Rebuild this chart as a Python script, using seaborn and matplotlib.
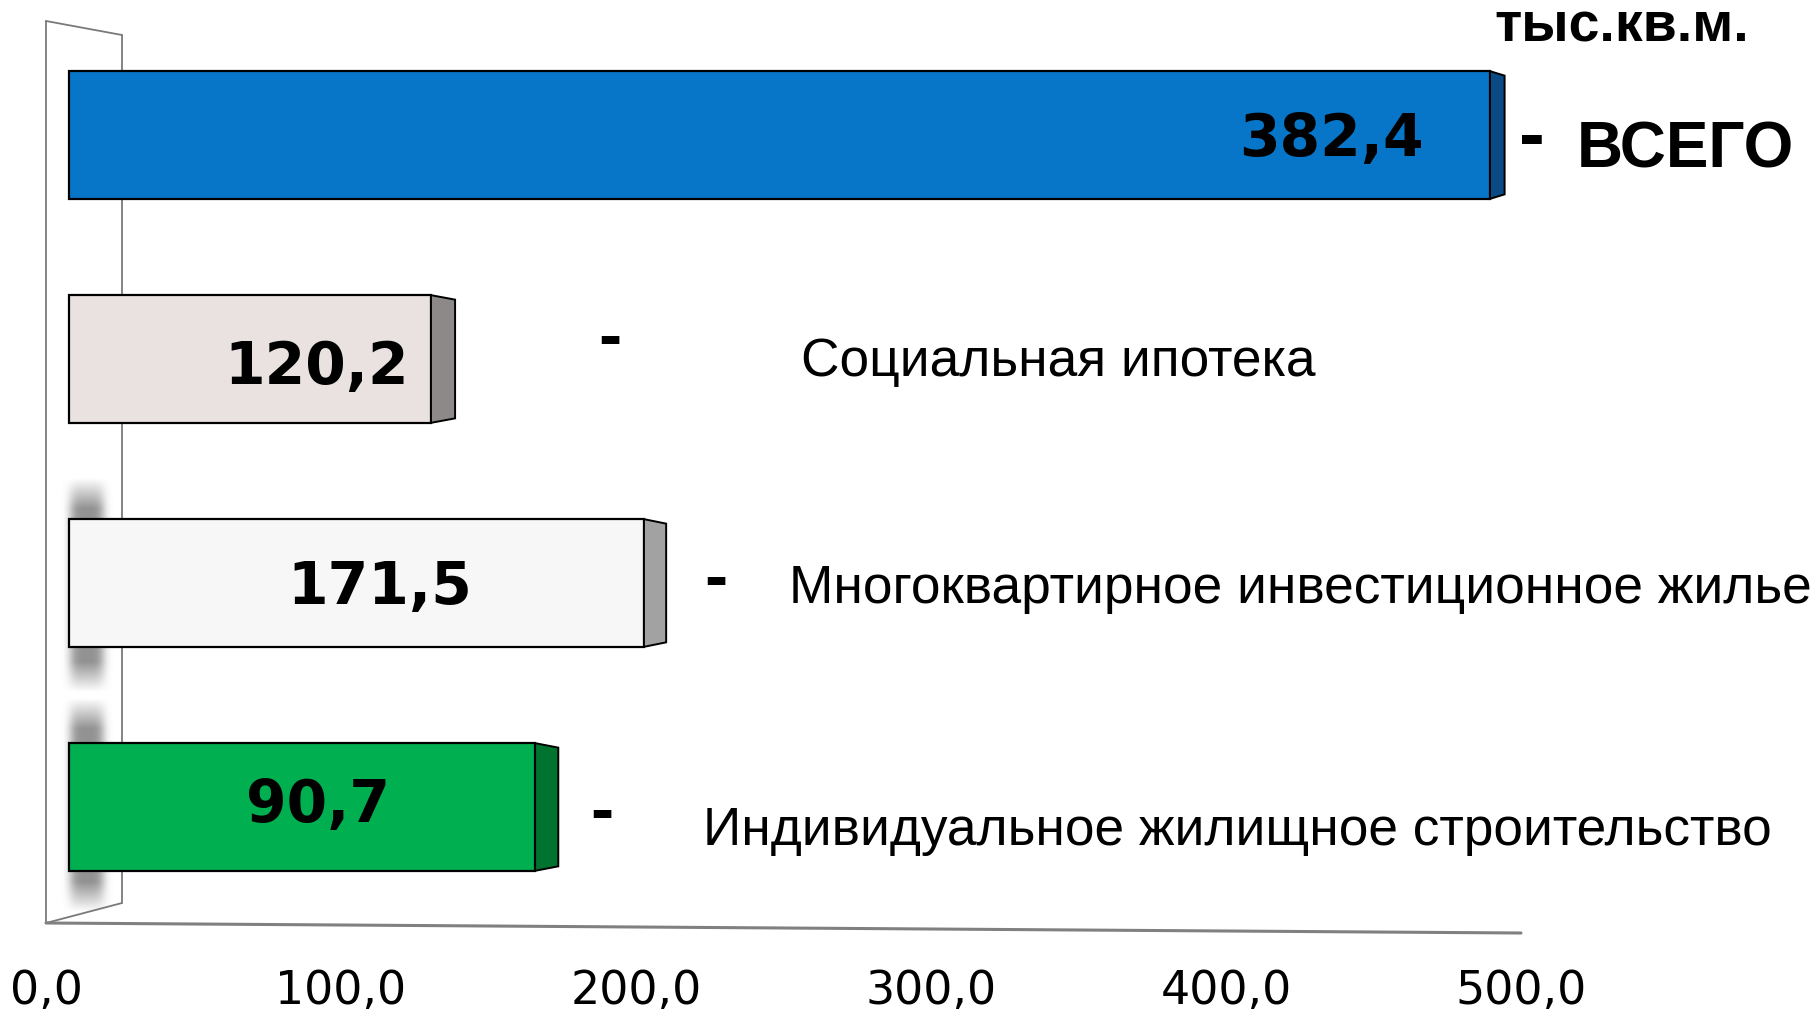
import numpy as np
import pandas as pd
import matplotlib.pyplot as plt
import matplotlib.transforms as mtransforms
from matplotlib.patches import Polygon
import seaborn as sns

# Data (top to bottom as in the picture)
categories = ["ВСЕГО", "Социальная ипотека",
              "Многоквартирное инвестиционное жилье",
              "Индивидуальное жилищное строительство"]
value_labels = ["382,4", "120,2", "171,5", "90,7"]
# bar lengths as drawn against the 0-500 axis (the source bars are not to scale)
bar_lengths = [481.7, 122.7, 194.9, 158.0]
ticks = [0, 100, 200, 300, 400, 500]
tick_labels = ["0,0", "100,0", "200,0", "300,0", "400,0", "500,0"]
unit_label = "тыс.кв.м."

front_colors = ["#0776C8", "#EAE2E1", "#F7F7F7", "#00B050"]
side_colors = ["#0B4B85", "#8E8989", "#A2A2A2", "#00732F"]

sns.set_style("white")
plt.rcParams['font.family'] = ['Liberation Sans', 'DejaVu Sans']
plt.rcParams['text.color'] = 'black'
plt.rcParams['xtick.color'] = 'black'

W, H = 1816, 1019
fig = plt.figure(figsize=(W / 100, H / 100), dpi=100)

# axes placed so that 0..500 spans the floor line of the 3D box
ax = fig.add_axes([46 / W, 1 - 923 / H, 1475 / W, 902 / H])
px = mtransforms.Affine2D().scale(1, -1).translate(0, H)  # pixel coords, origin top-left

df = pd.DataFrame({"cat": categories, "len": bar_lengths})
sns.barplot(data=df, x="len", y="cat", hue="cat", palette=front_colors, saturation=1,
            width=0.57, edgecolor="black", linewidth=1.6, legend=False, ax=ax, zorder=3)

# push bars to the middle of the box depth
depth_shift = mtransforms.ScaledTranslation(0.23, 0, fig.dpi_scale_trans)
bars = list(ax.patches)
for i, p in enumerate(bars):
    p.set_transform(ax.transData + depth_shift)
    xr = p.get_x() + p.get_width()
    y0, y1 = p.get_y(), p.get_y() + p.get_height()
    xr_px = 69 + xr * 2.95
    d = (28 - 0.009 * xr_px) / 2.95
    side = Polygon([(xr, y0), (xr + d, y0 + 0.02), (xr + d, y1 - 0.02), (xr, y1)],
                   closed=True, facecolor=side_colors[i], edgecolor="black",
                   linewidth=1.4, transform=ax.transData + depth_shift, zorder=3)
    ax.add_patch(side)

# back wall and floor
wall_kw = dict(color="#7a7a7a", lw=1.3, transform=px, clip_on=False, zorder=1)
ax.plot([46, 46], [21, 923], **wall_kw)
ax.plot([46, 122], [21, 35], **wall_kw)
ax.plot([122, 122], [35, 903], **wall_kw)
ax.plot([46, 122], [923, 903], **wall_kw)
ax.plot([46, 1521], [923, 933], color="#808080", lw=2.2, transform=px,
        clip_on=False, zorder=1)

# soft shadows on the wall behind the two lower bars
def shadow(y_top, y_bot):
    nx, ny = 60, 300
    gx = np.exp(-((np.linspace(-1, 1, nx)) / 0.62) ** 4)
    t = np.linspace(0, 1, ny)
    gy = np.clip(np.minimum(t, 1 - t) / 0.14, 0, 1)
    img = np.zeros((ny, nx, 4))
    img[..., :3] = 0.5
    img[..., 3] = 0.85 * gy[:, None] * gx[None, :]
    im = ax.imshow(img, extent=(58, 116, y_bot, y_top), aspect="auto",
                   interpolation="bilinear", zorder=2)
    im.set_transform(px)
    im.set_clip_on(False)

shadow(478, 692)
shadow(698, 912)

ax.set_xlim(0, 500)
ax.set_ylim(3.518, -0.509)
ax.set_xticks(ticks, tick_labels)
ax.tick_params(axis="x", length=0, pad=33, labelsize=33)
for lab in ax.get_xticklabels():
    lab.set_family("DejaVu Sans")
ax.tick_params(axis="y", left=False, labelleft=False)
ax.set_xlabel("")
ax.set_ylabel("")
sns.despine(ax=ax, left=True, bottom=True)
ax.patch.set_alpha(0)

# value labels inside bars
value_label_px = [(1331, 133), (317, 362), (380, 581), (318, 799)]
for (x, y), s in zip(value_label_px, value_labels):
    ax.text(x, y, s, transform=px, ha="center", va="center_baseline",
            fontsize=42, fontweight="bold", family="DejaVu Sans", zorder=5)

# dashes and category names
dash_px = [(1532, 139), (610, 339), (716, 580), (602, 813)]
name_px = [(1577, 144), (801, 357), (789, 583), (703, 826)]
for i, name in enumerate(categories):
    big = i == 0
    fig.text(dash_px[i][0] / W, 1 - (dash_px[i][1] + (21 if big else 19)) / H, "-",
             ha="center", va="baseline", fontsize=56 if big else 50, fontweight="bold")
    if big:
        fig.text(name_px[i][0] / W, 1 - name_px[i][1] / H, name, ha="left",
                 va="center_baseline", fontsize=46, fontweight="bold")
    else:
        fig.text(name_px[i][0] / W, 1 - name_px[i][1] / H, name, ha="left",
                 va="center_baseline", fontsize=38.3)

fig.text(1622 / W, 1 - 41 / H, unit_label, ha="center", va="baseline",
         fontsize=40, fontweight="bold")

fig.savefig("out.png", dpi=100)
